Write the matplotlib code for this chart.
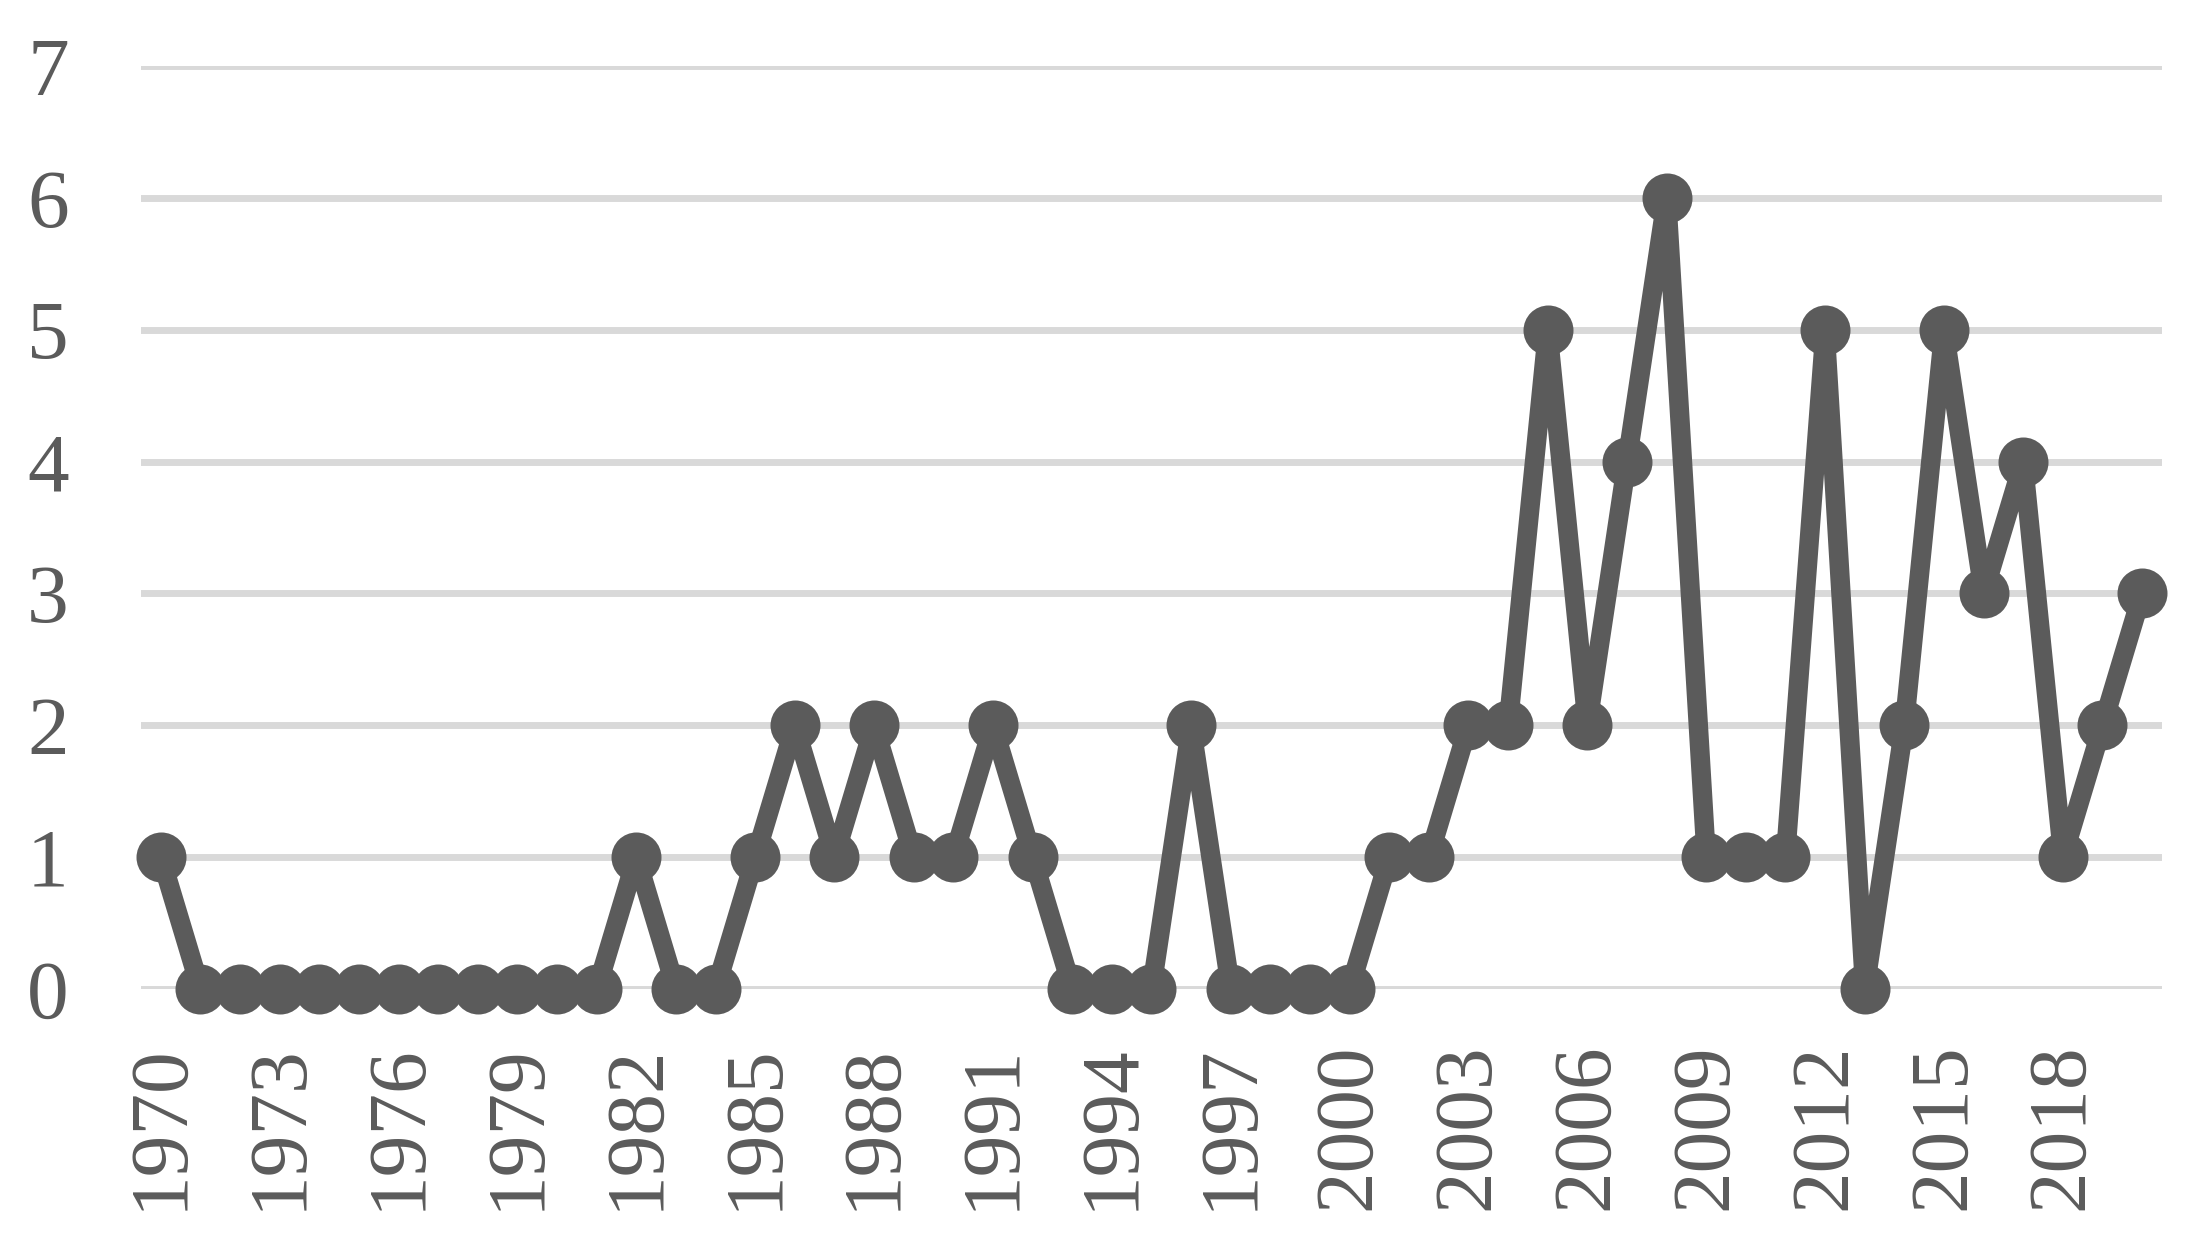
import matplotlib
matplotlib.use('Agg')
import matplotlib.pyplot as plt

# datos
years = list(range(1970, 2021))
counts = [1, 0, 0, 0, 0, 0, 0, 0, 0, 0,
          0, 0, 1, 0, 0, 1, 2, 1, 2, 1,
          1, 2, 1, 0, 0, 0, 2, 0, 0, 0,
          0, 1, 1, 2, 2, 5, 2, 4, 6, 1,
          1, 1, 5, 0, 2, 5, 3, 4, 1, 2,
          3]
tick_years = list(range(1970, 2019, 3))
y_ticks = [0, 1, 2, 3, 4, 5, 6, 7]

gris = '#5b5b5b'
plt.rcParams['font.family'] = ['Liberation Serif', 'DejaVu Serif']

fig = plt.figure(figsize=(22.11, 12.40), dpi=100, facecolor='white')
ax = fig.add_axes([0.0638, 0.2024, 0.9140, 0.7444])

x = list(range(len(years)))
ax.plot(x, counts, color=gris, linewidth=14, marker='o', markersize=36,
        markerfacecolor=gris, markeredgewidth=0, clip_on=False, zorder=3)

ax.set_xlim(-0.5, len(years) - 0.5)
ax.set_ylim(0, 7)

ax.set_yticks(y_ticks)
ax.set_yticklabels([str(v) for v in y_ticks])
ax.set_xticks([years.index(t) for t in tick_years])
ax.set_xticklabels([str(t) for t in tick_years], rotation=90)

ax.grid(axis='y', color='#d9d9d9', linewidth=5)
ax.set_axisbelow(True)
ax.tick_params(axis='both', length=0, labelsize=60, colors=gris)
ax.tick_params(axis='y', pad=52)
ax.tick_params(axis='x', pad=39)

for s in ax.spines.values():
    s.set_visible(False)

plt.savefig('out.png', dpi=100, facecolor='white')
